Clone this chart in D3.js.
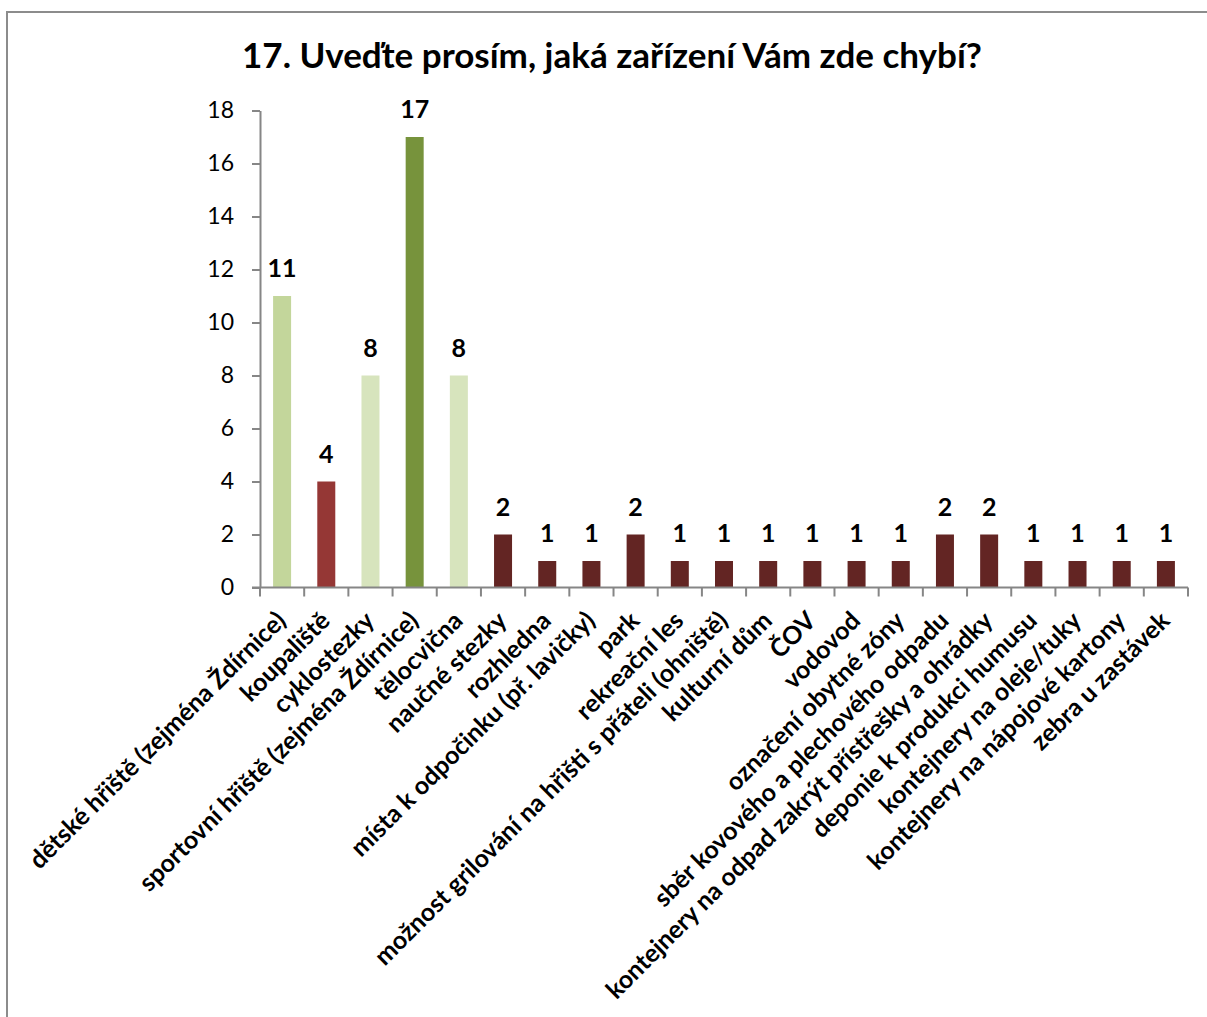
<!DOCTYPE html>
<html>
<head>
<meta charset="utf-8">
<script src="https://cdn.jsdelivr.net/npm/d3@7"></script>
<style>
  html, body { margin: 0; padding: 0; background: #fff; }
  svg { display: block; }
  text { font-family: Lato, "Open Sans", sans-serif; fill: #000; }
</style>
</head>
<body>
<svg id="chart" width="1207" height="1017"></svg>
<script>
// Survey question 17: which facilities are missing here (number of answers)
const title = "17. Uveďte prosím, jaká zařízení Vám zde chybí?";

const categories = [
  "dětské hřiště (zejména Ždírnice)",
  "koupaliště",
  "cyklostezky",
  "sportovní hřiště (zejména Ždírnice)",
  "tělocvična",
  "naučné stezky",
  "rozhledna",
  "místa k odpočinku (př. lavičky)",
  "park",
  "rekreační les",
  "možnost grilování na hřišti s přáteli (ohniště)",
  "kulturní dům",
  "ČOV",
  "vodovod",
  "označení obytné zóny",
  "sběr kovového a plechového odpadu",
  "kontejnery na odpad zakrýt přístřešky a ohrádky",
  "deponie k produkci humusu",
  "kontejnery na oleje/tuky",
  "kontejnery na nápojové kartony",
  "zebra u zastávek"
];

const counts = [11, 4, 8, 17, 8, 2, 1, 1, 2, 1, 1, 1, 1, 1, 1, 2, 2, 1, 1, 1, 1];

const yTicks = [0, 2, 4, 6, 8, 10, 12, 14, 16, 18];

// fill per bar
const barColors = [
  "#c3d69b", "#953735", "#d7e4bd", "#77933c", "#d7e4bd",
  "#632523", "#632523", "#632523", "#632523", "#632523",
  "#632523", "#632523", "#632523", "#632523", "#632523",
  "#632523", "#632523", "#632523", "#632523", "#632523", "#632523"
];

const svg = d3.select("#chart");
const axisColor = "#868686";

// chart frame
svg.append("rect")
  .attr("x", 7).attr("y", 12)
  .attr("width", 1240).attr("height", 1040)
  .attr("fill", "none")
  .attr("stroke", "#8c8c8c")
  .attr("stroke-width", 2);

svg.append("text")
  .attr("x", 612).attr("y", 68)
  .attr("text-anchor", "middle")
  .style("font-size", "35px")
  .style("font-weight", "700")
  .text(title);

const plot = { left: 260, right: 1188, top: 110.5, bottom: 587.5 };

const x = d3.scaleBand()
  .domain(categories)
  .range([plot.left, plot.right])
  .paddingInner(0)
  .paddingOuter(0);

const y = d3.scaleLinear()
  .domain([0, 18])
  .range([plot.bottom, plot.top]);

const barWidth = 18;

// bars
svg.append("g")
  .selectAll("rect")
  .data(categories)
  .join("rect")
  .attr("x", (d) => x(d) + x.bandwidth() / 2 - barWidth / 2)
  .attr("y", (d, i) => y(counts[i]))
  .attr("width", barWidth)
  .attr("height", (d, i) => y(0) - y(counts[i]))
  .attr("fill", (d, i) => barColors[i]);

// value labels
svg.append("g")
  .selectAll("text")
  .data(categories)
  .join("text")
  .attr("x", (d) => x(d) + x.bandwidth() / 2)
  .attr("y", (d, i) => y(counts[i]) - 19)
  .attr("text-anchor", "middle")
  .style("font-size", "25px")
  .style("font-weight", "700")
  .text((d, i) => counts[i]);

// y axis
const yAxis = d3.axisLeft(y)
  .tickValues(yTicks)
  .tickFormat(d3.format("d"))
  .tickSize(8)
  .tickSizeOuter(0)
  .tickPadding(18);

const gy = svg.append("g")
  .attr("transform", `translate(${plot.left},0)`)
  .call(yAxis);
gy.select(".domain").attr("stroke", axisColor).attr("stroke-width", 2);
gy.selectAll(".tick line").attr("stroke", axisColor).attr("stroke-width", 2);
gy.selectAll(".tick text")
  .style("font-family", "Lato, sans-serif")
  .style("font-size", "23px")
  .attr("fill", "#000");

// x axis: baseline with tick marks between categories
const gx = svg.append("g")
  .attr("transform", `translate(0,${plot.bottom})`);
gx.append("line")
  .attr("x1", plot.left - 8).attr("x2", plot.right)
  .attr("stroke", axisColor).attr("stroke-width", 2);
const boundaries = categories.map((d) => x(d)).concat([plot.right]);
gx.selectAll("line.tk")
  .data(boundaries)
  .join("line")
  .attr("class", "tk")
  .attr("x1", (d) => d).attr("x2", (d) => d)
  .attr("y1", 0).attr("y2", 9)
  .attr("stroke", axisColor).attr("stroke-width", 2);

// rotated category labels
svg.append("g")
  .selectAll("text")
  .data(categories)
  .join("text")
  .attr("transform", (d) => `translate(${x(d) + x.bandwidth() / 2 - 8},609) rotate(-45)`)
  .attr("text-anchor", "end")
  .attr("dy", "0.75em")
  .style("font-size", "25px")
  .style("font-weight", "700")
  .text((d) => d);
</script>
</body>
</html>
